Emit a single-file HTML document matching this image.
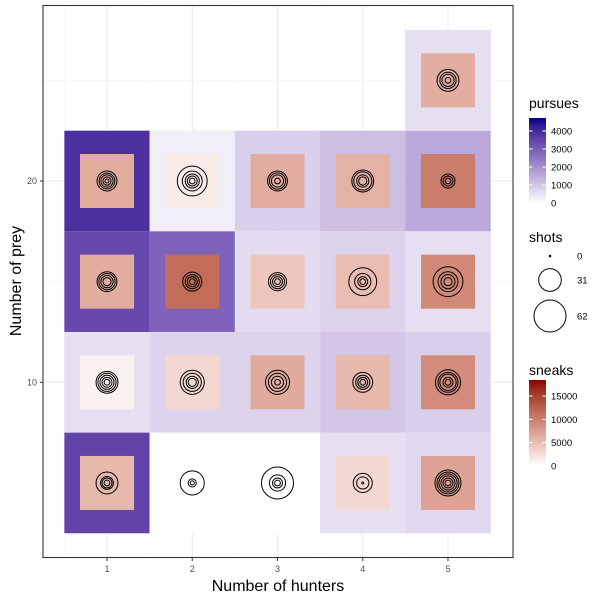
<!DOCTYPE html>
<html><head><meta charset="utf-8"><style>
body{margin:0;background:#fff;font-family:"Liberation Sans",sans-serif}
svg text{font-family:"Liberation Sans",sans-serif}
</style></head><body>
<svg id="chart" width="600" height="600" xmlns="http://www.w3.org/2000/svg">
<rect width="600" height="600" fill="#fff"/>
<g id="grid"></g>
<g id="tiles"></g>
<g id="inner"></g>
<g id="rings"></g>
<rect x="43" y="5.5" width="470" height="552" fill="none" stroke="#333" stroke-width="1.1"/>
<g id="axes"></g>
<text x="278" y="591" font-size="16" text-anchor="middle">Number of hunters</text>
<text transform="translate(21,281) rotate(-90)" font-size="16" text-anchor="middle">Number of prey</text>
<g id="legend"></g>
</svg>
<script>
const hunters = [1,2,3,4,5, 1,2,3,4,5, 1,2,3,4,5, 1,2,3,4,5, 5];
const prey    = [20,20,20,20,20, 15,15,15,15,15, 10,10,10,10,10, 5,5,5,5,5, 25];
const pursues = [3880,280,830,1170,1550, 3380,2880,610,770,580, 550,770,770,1000,850, 3500,0,0,580,700, 580];
const sneaks  = [6400,1500,6400,6000,10200, 6400,11500,4400,5100,9200, 1000,3000,6500,5500,9000, 5500,0,0,3000,7200, 6300];
const shots = [
 [24,15,9,4,1],[54,24,12,6,2],[24,16,9,2],[29,20,9,4],[12,6,2],
 [24,16,9,4],[22,12,6,2],[20,12,6,2],[47,16,6,2],[54,24,12,4],
 [29,20,12,6,2],[35,20,9,4],[35,20,9,2],[24,12,6,2],[38,24,16,6,2],
 [29,10,6,2],[35,4,1],[62,16,6,2],[22,9,0],[41,29,20,12,6,2],
 [29,16,9,2]
];
const xTicks = [1,2,3,4,5];
const yTicks = [10,20];
const pursuesTicks = [0,1000,2000,3000,4000];
const sneaksTicks = [0,5000,10000,15000];
const shotsLegend = [0,31,62];
const PMAX = 4720, SMAX = 18450, SHMAX = 62;

const NS="http://www.w3.org/2000/svg";
function xs(v){return 107+(v-1)*85.25;}
function ys(v){return 181-(v-20)*20.13;}
function rs(v){return Math.max(1,16*Math.sqrt(v/SHMAX));}
function el(tag,attrs,parent){const e=document.createElementNS(NS,tag);for(const k in attrs)e.setAttribute(k,attrs[k]);parent.appendChild(e);return e;}
// Lab interpolation
function toLin(c){c/=255;return c<=0.04045?c/12.92:Math.pow((c+0.055)/1.055,2.4);}
function fromLin(c){c=c<=0.0031308?12.92*c:1.055*Math.pow(c,1/2.4)-0.055;return Math.round(Math.max(0,Math.min(1,c))*255);}
function rgb2lab(r,g,b){r=toLin(r);g=toLin(g);b=toLin(b);
 let X=(r*0.4124+g*0.3576+b*0.1805)/0.95047,Y=r*0.2126+g*0.7152+b*0.0722,Z=(r*0.0193+g*0.1192+b*0.9505)/1.08883;
 const f=t=>t>0.008856?Math.cbrt(t):7.787*t+16/116;X=f(X);Y=f(Y);Z=f(Z);
 return [116*Y-16,500*(X-Y),200*(Y-Z)];}
function lab2rgb(L,a,b){let Y=(L+16)/116,X=a/500+Y,Z=Y-b/200;
 const fi=t=>t*t*t>0.008856?t*t*t:(t-16/116)/7.787;X=fi(X)*0.95047;Y=fi(Y);Z=fi(Z)*1.08883;
 const r=X*3.2406+Y*-1.5372+Z*-0.4986,g=X*-0.9689+Y*1.8758+Z*0.0415,bb=X*0.0557+Y*-0.2040+Z*1.0570;
 return `rgb(${fromLin(r)},${fromLin(g)},${fromLin(bb)})`;}
const W=rgb2lab(255,255,255),PB=rgb2lab(0,0,139),SR=rgb2lab(139,0,0);
function mix(A,B,t){t=Math.max(0,Math.min(1,t));return lab2rgb(A[0]+(B[0]-A[0])*t,A[1]+(B[1]-A[1])*t,A[2]+(B[2]-A[2])*t);}
function pcol(v){return mix(W,PB,v/PMAX);}
function scol(v){return mix(W,SR,v/SMAX);}

const grid=document.getElementById('grid');
[0.5,1.5,2.5,3.5,4.5,5.5].forEach(v=>{const l=el('line',{x1:xs(v),x2:xs(v),y1:5,y2:557,stroke:'#f2f2f2','stroke-width':0.6},grid);});
[5,15,25].forEach(v=>{const l=el('line',{x1:43,x2:513,y1:ys(v),y2:ys(v),stroke:'#f2f2f2','stroke-width':0.6},grid);});
xTicks.forEach(v=>{const l=el('line',{x1:xs(v),x2:xs(v),y1:5,y2:557,stroke:'#ebebeb','stroke-width':1.1},grid);});
yTicks.forEach(v=>{const l=el('line',{x1:43,x2:513,y1:ys(v),y2:ys(v),stroke:'#ebebeb','stroke-width':1.1},grid);});

const tiles=document.getElementById('tiles'),inner=document.getElementById('inner'),rings=document.getElementById('rings');
const tw=85.25,th=20.13*5;
for(let i=0;i<hunters.length;i++){
 const cx=xs(hunters[i]),cy=ys(prey[i]);
 const t=el('rect',{x:cx-tw/2,y:cy-th/2,width:tw,height:th,fill:pcol(pursues[i])},tiles);
 
 
 const s=el('rect',{x:cx-27,y:cy-27,width:54,height:54,fill:scol(sneaks[i])},inner);
 
 
 shots[i].forEach(v=>{
  const c=el('circle',{cx:cx,cy:cy,r:rs(v),fill:'none',stroke:'#000','stroke-width':1},rings);
  
  
 });
}
const axes=document.getElementById('axes');
xTicks.forEach(v=>{
 el('line',{x1:xs(v),x2:xs(v),y1:558,y2:561,stroke:'#333','stroke-width':1},axes);
 const t=el('text',{x:xs(v),y:572,'font-size':9,fill:'#4d4d4d','text-anchor':'middle'},axes);t.textContent=v;
 
 
});
yTicks.forEach(v=>{
 el('line',{x1:40,x2:43,y1:ys(v),y2:ys(v),stroke:'#333','stroke-width':1},axes);
 const t=el('text',{x:37,y:ys(v)+3,'font-size':9,fill:'#4d4d4d','text-anchor':'end'},axes);t.textContent=v;
 
 
});

const lg=document.getElementById('legend');
function colorbar(title,ty,top,bottom,max,ticks,colf,gid,name){
 const tt=el('text',{x:529,y:ty,'font-size':14},lg);tt.textContent=title;
 
 
 const defs=el('defs',{},lg);const g=el('linearGradient',{id:gid,x1:0,y1:1,x2:0,y2:0},defs);
 for(let k=0;k<=10;k++)el('stop',{offset:k/10,'stop-color':colf(max*k/10)},g);
 const bar=el('rect',{x:529,y:top,width:17,height:bottom-top,fill:`url(#${gid})`},lg);
 
 
 ticks.forEach(v=>{const y=bottom-(bottom-top)*v/max;
  el('line',{x1:529,x2:532.5,y1:y,y2:y,stroke:'#fff','stroke-width':1},lg);
  el('line',{x1:542.5,x2:546,y1:y,y2:y,stroke:'#fff','stroke-width':1},lg);
  const t=el('text',{x:551,y:y+3.5,'font-size':9.5,fill:'#000'},lg);t.textContent=v;
  
  });
}
colorbar('pursues',108,118,203,PMAX,pursuesTicks,pcol,'gp','pursues');
colorbar('sneaks',375,380,466,SMAX,sneaksTicks,scol,'gs','sneaks');
const st=el('text',{x:529,y:242,'font-size':14},lg);st.textContent='shots';


const shotY=[256,280,316];
shotsLegend.forEach((v,k)=>{
 const c=el('circle',{cx:550,cy:shotY[k],r:v===0?0.8:rs(v),fill:'none',stroke:'#000','stroke-width':1},lg);
 
 
 const t=el('text',{x:577,y:shotY[k]+3.5,'font-size':9.5},lg);t.textContent=v;
 
 
});
</script>
</body></html>
